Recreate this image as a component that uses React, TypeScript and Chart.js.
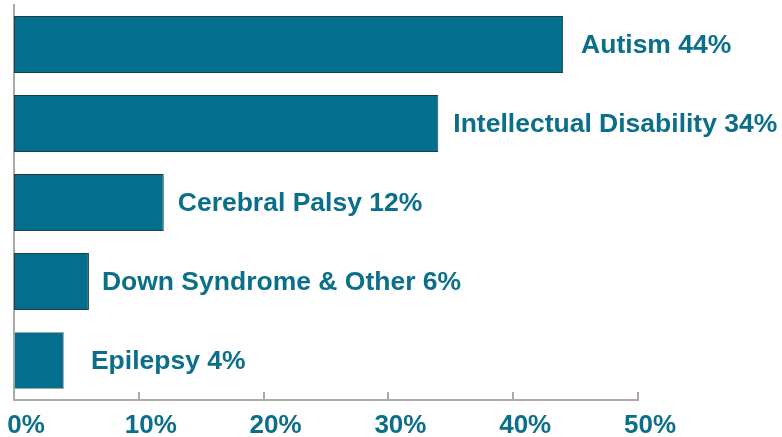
import React, { useEffect, useRef } from "react";
import { Chart, registerables } from "chart.js";

Chart.register(...registerables);

const categories = ["Autism", "Intellectual Disability", "Cerebral Palsy", "Down Syndrome & Other", "Epilepsy"];
const values = [44, 34, 12, 6, 4];
const labelGaps = [18, 15, 14, 13, 27];
const xTicks = [0, 10, 20, 30, 40, 50];

const BAR = "#036F8C";
const TEXT = "#0B6E8B";
const AXIS = "#aaaaaa";
const FONT = "'Liberation Sans', Arial, Helvetica, sans-serif";

const labelPlugin = {
  id: "barLabels",
  afterDatasetsDraw(chart: any) {
    const { ctx } = chart;
    const meta = chart.getDatasetMeta(0);
    ctx.save();
    ctx.font = `bold 26.5px ${FONT}`;
    ctx.fillStyle = TEXT;
    ctx.textBaseline = "middle";
    ctx.textAlign = "left";
    meta.data.forEach((bar: any, i: number) => {
      ctx.fillText(`${categories[i]} ${values[i]}%`, bar.x + labelGaps[i], bar.y + 1.5);
    });
    const xs = chart.scales.x;
    ctx.strokeStyle = AXIS;
    ctx.lineWidth = 2;
    xTicks.slice(1).forEach((t) => {
      const px = Math.round(xs.getPixelForValue(t));
      ctx.beginPath();
      ctx.moveTo(px, chart.chartArea.bottom);
      ctx.lineTo(px, chart.chartArea.bottom - 8);
      ctx.stroke();
    });
    ctx.restore();
  },
};

export default function App() {
  const ref = useRef<HTMLCanvasElement>(null);
  useEffect(() => {
    const chart = new Chart(ref.current!, {
      type: "bar",
      data: {
        labels: categories,
        datasets: [
          {
            data: values,
            backgroundColor: BAR,
            borderColor: ["#1d3e48", "#1d3e48", "#1d3e48", "#1d3e48", "#9aa6aa"],
            borderWidth: 1,
            borderSkipped: false,
            barPercentage: 0.72,
            categoryPercentage: 1,
          },
        ],
      },
      options: {
        indexAxis: "y",
        animation: false,
        responsive: false,
        maintainAspectRatio: false,
        layout: { padding: { left: 14, top: 5, right: 144, bottom: 0 } },
        plugins: { legend: { display: false }, tooltip: { enabled: false } },
        scales: {
          y: {
            type: "category",
            ticks: { display: false },
            grid: { display: false, drawTicks: false },
            border: { display: true, color: AXIS, width: 2 },
            afterFit: (s: any) => {
              s.width = 0;
            },
          },
          x: {
            type: "linear",
            min: 0,
            max: 50,
            afterBuildTicks: (s: any) => {
              s.ticks = xTicks.map((v) => ({ value: v }));
            },
            afterFit: (s: any) => {
              s.paddingLeft = 0;
              s.paddingRight = 0;
              s.paddingTop = 0;
              s.paddingBottom = 0;
              s.height = 37;
            },
            ticks: {
              callback: (v: any) => `${v}%`,
              color: TEXT,
              font: { family: FONT, size: 26, weight: "bold", lineHeight: 1 },
              padding: 13,
              labelOffset: 12,
              maxRotation: 0,
              autoSkip: false,
            },
            grid: { display: false, drawTicks: false },
            border: { display: true, color: AXIS, width: 2 },
          },
        },
      },
      plugins: [labelPlugin],
    });
    return () => chart.destroy();
  }, []);
  return (
    <div style={{ position: "fixed", left: 0, top: 0, width: 782, height: 437, background: "#fff" }}>
      <canvas ref={ref} width={782} height={437} />
    </div>
  );
}
